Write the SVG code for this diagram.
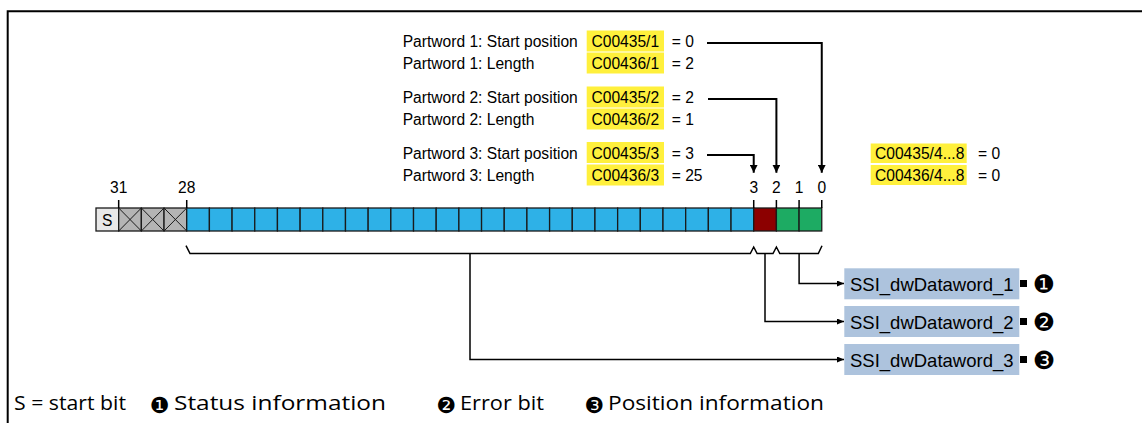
<svg xmlns="http://www.w3.org/2000/svg" width="1142" height="423" viewBox="0 0 1142 423">
<defs>
<style>
.t{font-family:"Liberation Sans",Arial,sans-serif;font-size:15.6px;fill:#000}
.bn{font-family:"Liberation Sans",Arial,sans-serif;font-size:15.6px;fill:#000;text-anchor:middle}
.hl{fill:#fff03c}
.cell{stroke:#1a1a1a;stroke-width:1.3}
.s{fill:#e8e8e8}
.x{fill:#b4b4b4}
.b{fill:#2eb1e7}
.r{fill:#8c0000}
.g{fill:#1dab63}
.xl{stroke:#1a1a1a;stroke-width:1}
.tick{stroke:#000;stroke-width:1.5}
.ln{fill:none;stroke:#000;stroke-width:2}
.ln2{fill:none;stroke:#000;stroke-width:1.5}
.box{fill:#adc3dd}
.bt{font-family:"Liberation Sans",Arial,sans-serif;font-size:18.5px;fill:#000}
.num{font-family:"DejaVu Sans",sans-serif;font-size:25px;fill:#000;text-anchor:middle}
.lg{font-family:"Open Sans","Noto Sans",sans-serif;font-size:20px;fill:#000}
.lgn{font-family:"DejaVu Sans",sans-serif;font-size:22px;fill:#000;text-anchor:middle}
</style>
<marker id="ah" markerWidth="8" markerHeight="8" refX="8" refY="4" orient="auto" markerUnits="userSpaceOnUse"><path d="M0,0 L8,4 L0,8 z" fill="#000"/></marker>
<marker id="ah2" markerWidth="7" markerHeight="6" refX="7" refY="3" orient="auto" markerUnits="userSpaceOnUse"><path d="M0,0 L7,3 L0,6 z" fill="#000"/></marker>
</defs>
<rect width="1142" height="423" fill="#fff"/>
<path d="M7.7,423 V11.2 H1142" fill="none" stroke="#000" stroke-width="2"/>

<g id="params">
<rect class="hl" x="586.7" y="30.5" width="77.3" height="21"/>
<rect class="hl" x="586.7" y="52.5" width="77.3" height="21"/>
<rect class="hl" x="586.7" y="86.5" width="77.3" height="21"/>
<rect class="hl" x="586.7" y="108.5" width="77.3" height="21"/>
<rect class="hl" x="586.7" y="142" width="77.3" height="21"/>
<rect class="hl" x="586.7" y="164.5" width="77.3" height="21"/>
<text class="t" x="402.7" y="47">Partword 1: Start position</text>
<text class="t" x="591.5" y="47">C00435/1</text>
<text class="t" x="671.7" y="47">= 0</text>
<text class="t" x="402.7" y="69">Partword 1: Length</text>
<text class="t" x="591.5" y="69">C00436/1</text>
<text class="t" x="671.7" y="69">= 2</text>
<text class="t" x="402.7" y="103">Partword 2: Start position</text>
<text class="t" x="591.5" y="103">C00435/2</text>
<text class="t" x="671.7" y="103">= 2</text>
<text class="t" x="402.7" y="125">Partword 2: Length</text>
<text class="t" x="591.5" y="125">C00436/2</text>
<text class="t" x="671.7" y="125">= 1</text>
<text class="t" x="402.7" y="158.5">Partword 3: Start position</text>
<text class="t" x="591.5" y="158.5">C00435/3</text>
<text class="t" x="671.7" y="158.5">= 3</text>
<text class="t" x="402.7" y="181">Partword 3: Length</text>
<text class="t" x="591.5" y="181">C00436/3</text>
<text class="t" x="671.7" y="181">= 25</text>
</g>

<g id="params-rest">
<rect class="hl" x="870.7" y="143.5" width="96" height="19.5"/>
<rect class="hl" x="870.7" y="165" width="96" height="20"/>
<text class="t" x="875" y="158.5">C00435/4...8</text>
<text class="t" x="978" y="158.5">= 0</text>
<text class="t" x="875" y="181">C00436/4...8</text>
<text class="t" x="978" y="181">= 0</text>
</g>

<g id="register">
<rect class="cell s" x="96" y="208" width="22.68" height="23"/>
<text class="bn" x="107.3" y="226" font-size="16">S</text>
<rect class="cell x" x="118.68" y="208" width="22.68" height="23"/>
<rect class="cell x" x="141.36" y="208" width="22.68" height="23"/>
<rect class="cell x" x="164.04" y="208" width="22.68" height="23"/>
<path class="xl" d="M118.68,208 L141.36,231 M141.36,208 L118.68,231 M141.36,208 L164.04,231 M164.04,208 L141.36,231 M164.04,208 L186.72,231 M186.72,208 L164.04,231"/>
<rect class="cell b" x="186.72" y="208" width="22.68" height="23"/>
<rect class="cell b" x="209.40" y="208" width="22.68" height="23"/>
<rect class="cell b" x="232.08" y="208" width="22.68" height="23"/>
<rect class="cell b" x="254.76" y="208" width="22.68" height="23"/>
<rect class="cell b" x="277.44" y="208" width="22.68" height="23"/>
<rect class="cell b" x="300.12" y="208" width="22.68" height="23"/>
<rect class="cell b" x="322.80" y="208" width="22.68" height="23"/>
<rect class="cell b" x="345.48" y="208" width="22.68" height="23"/>
<rect class="cell b" x="368.16" y="208" width="22.68" height="23"/>
<rect class="cell b" x="390.84" y="208" width="22.68" height="23"/>
<rect class="cell b" x="413.52" y="208" width="22.68" height="23"/>
<rect class="cell b" x="436.20" y="208" width="22.68" height="23"/>
<rect class="cell b" x="458.88" y="208" width="22.68" height="23"/>
<rect class="cell b" x="481.56" y="208" width="22.68" height="23"/>
<rect class="cell b" x="504.24" y="208" width="22.68" height="23"/>
<rect class="cell b" x="526.92" y="208" width="22.68" height="23"/>
<rect class="cell b" x="549.60" y="208" width="22.68" height="23"/>
<rect class="cell b" x="572.28" y="208" width="22.68" height="23"/>
<rect class="cell b" x="594.96" y="208" width="22.68" height="23"/>
<rect class="cell b" x="617.64" y="208" width="22.68" height="23"/>
<rect class="cell b" x="640.32" y="208" width="22.68" height="23"/>
<rect class="cell b" x="663.00" y="208" width="22.68" height="23"/>
<rect class="cell b" x="685.68" y="208" width="22.68" height="23"/>
<rect class="cell b" x="708.36" y="208" width="22.68" height="23"/>
<rect class="cell b" x="731.04" y="208" width="22.68" height="23"/>
<rect class="cell r" x="753.72" y="208" width="22.68" height="23"/>
<rect class="cell g" x="776.40" y="208" width="22.68" height="23"/>
<rect class="cell g" x="799.08" y="208" width="22.68" height="23"/>
<path class="tick" d="M118.68,200 V208 M186.72,200 V208 M753.72,200 V208 M776.4,200 V208 M799.08,200 V208 M821.76,200 V208"/>
<text class="bn" x="118.68" y="193">31</text>
<text class="bn" x="186.72" y="193">28</text>
<text class="bn" x="753.72" y="193">3</text>
<text class="bn" x="776.4" y="193">2</text>
<text class="bn" x="799.08" y="193">1</text>
<text class="bn" x="821.76" y="193">0</text>
</g>

<g id="brace">
<path class="ln2" d="M186,245.7 L190,253.5 H750.3 L753.7,247 L757.1,253.5 H773 L776.4,247 L779.8,253.5 H818.3 L822,245.7"/>
</g>

<g id="box1">
<rect class="box" x="844.3" y="268.3" width="175" height="31"/>
<text class="bt" x="850" y="291.2">SSI_dwDataword_1</text>
<rect x="1020" y="280" width="7" height="7" fill="#000"/>
<text class="num" x="1044" y="293.3">❶</text>
</g>
<g id="box2">
<rect class="box" x="844.3" y="306" width="175" height="31"/>
<text class="bt" x="850" y="329">SSI_dwDataword_2</text>
<rect x="1020" y="318" width="7" height="7" fill="#000"/>
<text class="num" x="1044" y="331">❷</text>
</g>
<g id="box3">
<rect class="box" x="844.3" y="344" width="175" height="31"/>
<text class="bt" x="850" y="367">SSI_dwDataword_3</text>
<rect x="1020" y="356" width="7" height="7" fill="#000"/>
<text class="num" x="1044" y="369">❸</text>
</g>

<g id="connectors">
<path class="ln" d="M707,43 H821.76 V172.7" marker-end="url(#ah)"/>
<path class="ln" d="M708,99 H776.4 V172.7" marker-end="url(#ah)"/>
<path class="ln" d="M707,155 H753.72 V172.7" marker-end="url(#ah)"/>
<path class="ln2" d="M799.1,253.5 V283.5 H844" marker-end="url(#ah2)"/>
<path class="ln2" d="M765,253.5 V321.5 H844" marker-end="url(#ah2)"/>
<path class="ln2" d="M470,253.5 V359.5 H844" marker-end="url(#ah2)"/>
</g>

<g id="legend">
<text class="lg" x="14" y="410" textLength="112" lengthAdjust="spacingAndGlyphs">S = start bit</text>
<text class="lgn" x="159.5" y="412.5">❶</text>
<text class="lg" x="174" y="410" textLength="212" lengthAdjust="spacingAndGlyphs">Status information</text>
<text class="lgn" x="446" y="412.5">❷</text>
<text class="lg" x="460" y="410" textLength="84" lengthAdjust="spacingAndGlyphs">Error bit</text>
<text class="lgn" x="594" y="412.5">❸</text>
<text class="lg" x="608" y="410" textLength="216" lengthAdjust="spacingAndGlyphs">Position information</text>
</g>
</svg>
